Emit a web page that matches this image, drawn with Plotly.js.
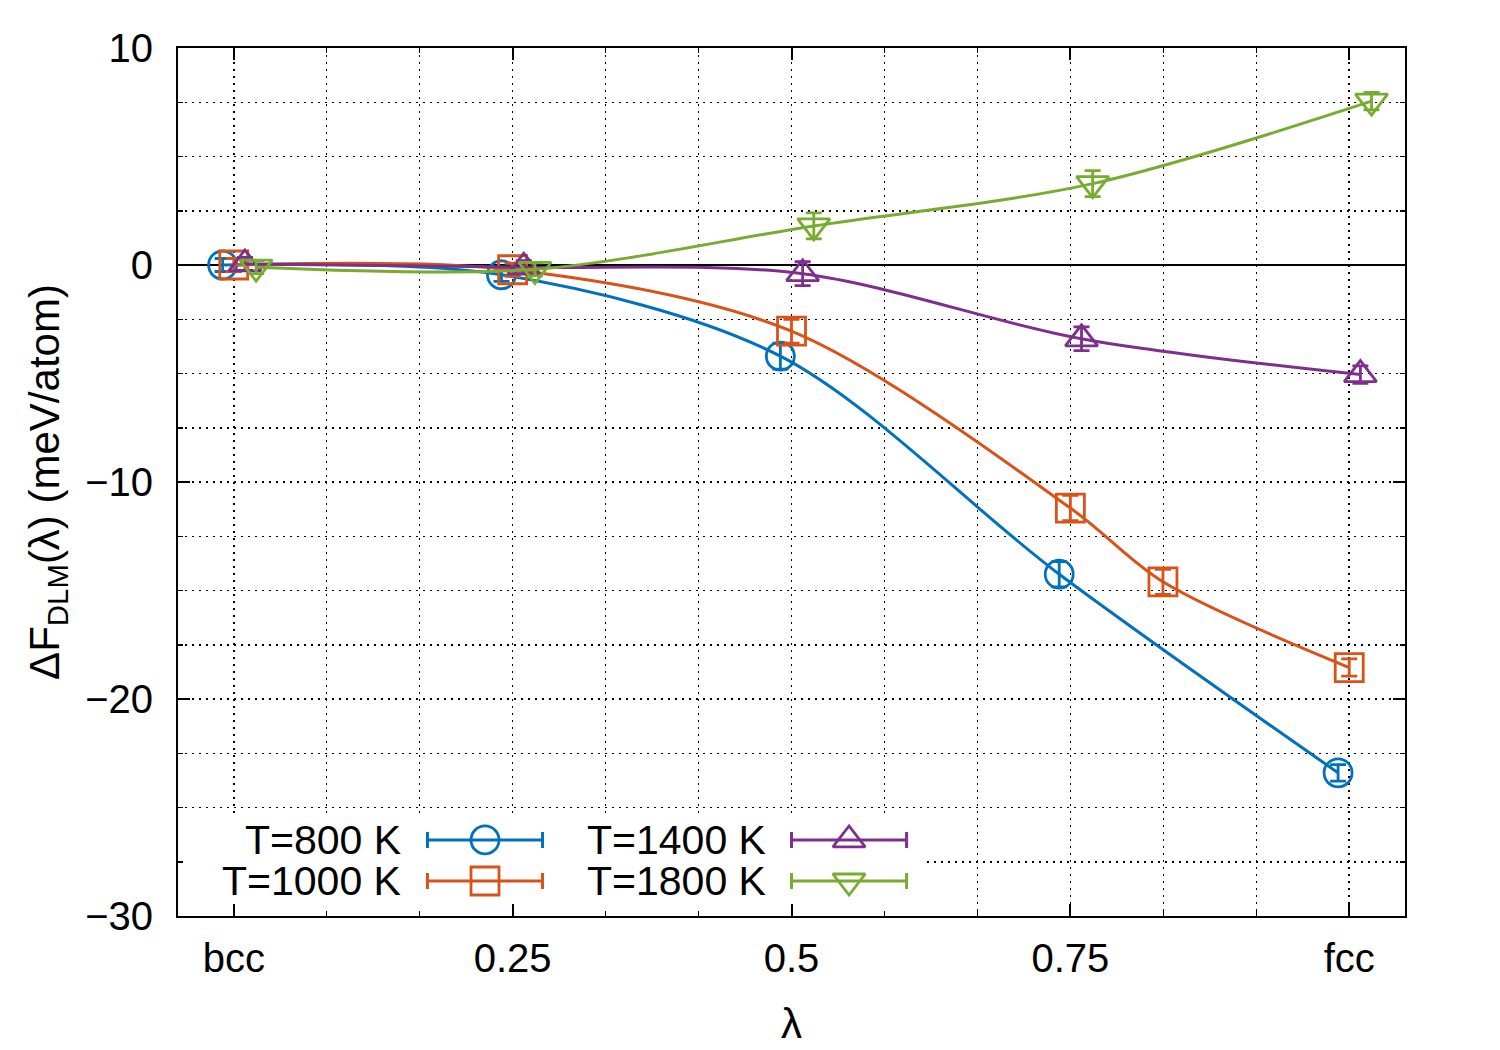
<!DOCTYPE html>
<html>
<head>
<meta charset="utf-8">
<script src="https://cdn.plot.ly/plotly-3.0.1.min.js"></script>
<style>
  body { margin: 0; background: white; }
  #chart { width: 1500px; height: 1050px; }
</style>
</head>
<body>
<div id="chart"></div>
<script>
// datos (x ligeramente desplazado por serie, como en el original)
const seriesNames = ['T=800 K', 'T=1000 K', 'T=1400 K', 'T=1800 K'];
const seriesColors = ['#0072BD', '#D95319', '#7E2F8E', '#77AC30'];
const seriesSymbols = ['circle-open', 'square-open', 'triangle-up-open', 'triangle-down-open'];

const x800 = [-0.01, 0.24, 0.49, 0.74, 0.99];
const y800 = [0.0, -0.45, -4.2, -14.25, -23.4];
const e800 = [0.3, 0.3, 0.6, 0.58, 0.38];

const x1000 = [0.0, 0.25, 0.5, 0.75, 0.833, 1.0];
const y1000 = [0.0, -0.22, -3.05, -11.2, -14.6, -18.55];
const e1000 = [0.3, 0.3, 0.55, 0.58, 0.58, 0.4];

const x1400 = [0.01, 0.26, 0.51, 0.76, 1.01];
const y1400 = [0.05, -0.1, -0.4, -3.4, -5.05];
const e1400 = [0.3, 0.3, 0.55, 0.55, 0.4];

const x1800 = [0.02, 0.27, 0.52, 0.77, 1.02];
const y1800 = [-0.1, -0.2, 1.8, 3.75, 7.55];
const e1800 = [0.3, 0.3, 0.6, 0.6, 0.4];

const xTickVals = [0, 0.25, 0.5, 0.75, 1];
const xTickText = ['bcc', '0.25', '0.5', '0.75', 'fcc'];

const allX = [x800, x1000, x1400, x1800];
const allY = [y800, y1000, y1400, y1800];
const allE = [e800, e1000, e1400, e1800];

const FONT = 'Liberation Sans, Arial, Helvetica, sans-serif';
const dotted = '2px,5px';
const X_RANGE = [-0.05, 1.05];
const Y_RANGE = [-30, 10];

const traces = [];
for (let i = 0; i < 4; i++) {
  traces.push({
    type: 'scatter',
    mode: 'lines+markers',
    name: seriesNames[i],
    x: allX[i],
    y: allY[i],
    line: { color: seriesColors[i], width: 3, shape: 'spline', smoothing: 0.9 },
    marker: { symbol: seriesSymbols[i], size: 28, color: seriesColors[i], line: { width: 2.8, color: seriesColors[i] } },
    error_y: { type: 'data', array: allE[i], visible: true, color: seriesColors[i], thickness: 2.8, width: 8 },
    showlegend: false,
    hoverinfo: 'x+y'
  });
}

// leyenda al estilo gnuplot: texto a la izquierda, muestra a la derecha
const legCol = [0.2502, 0.5469];     // centro de la muestra (fraccion del area)
const legTextX = [0.1834, 0.4808];   // borde derecho del texto
const legRow = [0.0876, 0.0403];
const legHalf = 0.0469;
const legBoxW = 0.609, legBoxH = 0.118;  // caja blanca, fraccion del area

const annotations = [];
for (let i = 0; i < 4; i++) {
  const c = Math.floor(i / 2), r = i % 2;
  traces.push({
    type: 'scatter',
    mode: 'markers',
    x: [legCol[c]],
    y: [legRow[r]],
    xaxis: 'x2',
    yaxis: 'y2',
    marker: { symbol: seriesSymbols[i], size: 28, color: seriesColors[i], line: { width: 2.8, color: seriesColors[i] } },
    error_x: { type: 'data', array: [legHalf], visible: true, color: seriesColors[i], thickness: 3, width: 8 },
    showlegend: false,
    hoverinfo: 'skip'
  });
  annotations.push({
    xref: 'paper', yref: 'paper',
    x: legTextX[c], y: legRow[r],
    xanchor: 'right', yanchor: 'middle',
    text: seriesNames[i], showarrow: false,
    font: { family: FONT, size: 41, color: 'black' }
  });
}

const xs = X_RANGE[1] - X_RANGE[0], ys = Y_RANGE[1] - Y_RANGE[0];

const layout = {
  width: 1500,
  height: 1050,
  margin: { l: 178, r: 95, t: 48, b: 134 },
  paper_bgcolor: 'white',
  plot_bgcolor: 'white',
  font: { family: FONT, size: 40, color: 'black' },
  showlegend: false,
  xaxis: {
    range: X_RANGE,
    tickmode: 'array',
    tickvals: xTickVals,
    ticktext: xTickText,
    ticks: 'inside',
    ticklen: 12,
    tickwidth: 2,
    tickcolor: 'black',
    ticklabelstandoff: 6,
    showline: true,
    linecolor: 'black',
    linewidth: 2,
    mirror: 'ticks',
    showgrid: true,
    gridcolor: 'black',
    gridwidth: 1.5,
    griddash: dotted,
    zeroline: false,
    minor: {
      tickmode: 'linear', tick0: 0, dtick: 1 / 12,
      ticks: 'inside', ticklen: 5, tickwidth: 1.5, tickcolor: 'black',
      showgrid: true, gridcolor: 'black', gridwidth: 1.5, griddash: dotted
    },
    title: { text: 'λ', font: { family: FONT, size: 42 }, standoff: 30 }
  },
  yaxis: {
    range: Y_RANGE,
    tickmode: 'linear',
    tick0: 0,
    dtick: 10,
    ticks: 'inside',
    ticklen: 12,
    tickwidth: 2,
    tickcolor: 'black',
    ticklabelstandoff: 15,
    showline: true,
    linecolor: 'black',
    linewidth: 2,
    mirror: 'ticks',
    showgrid: true,
    gridcolor: 'black',
    gridwidth: 1.5,
    griddash: dotted,
    zeroline: true,
    zerolinecolor: 'black',
    zerolinewidth: 2,
    minor: {
      tickmode: 'linear', tick0: 0, dtick: 2.5,
      ticks: 'inside', ticklen: 5, tickwidth: 1.5, tickcolor: 'black',
      showgrid: true, gridcolor: 'black', gridwidth: 1.5, griddash: dotted
    },
    title: { text: 'ΔF<sub>DLM</sub>(λ) (meV/atom)', font: { family: FONT, size: 42 }, standoff: 12 }
  },
  xaxis2: { overlaying: 'x', anchor: 'y2', range: [0, 1], visible: false, fixedrange: true },
  yaxis2: { overlaying: 'y', anchor: 'x2', range: [0, 1], visible: false, fixedrange: true },
  shapes: [{
    type: 'rect', xref: 'x', yref: 'y', layer: 'between',
    x0: X_RANGE[0], x1: X_RANGE[0] + legBoxW * xs,
    y0: Y_RANGE[0], y1: Y_RANGE[0] + legBoxH * ys,
    fillcolor: 'white', line: { width: 0 }
  }],
  annotations: annotations
};

Plotly.newPlot('chart', traces, layout, { displayModeBar: false, staticPlot: true });
</script>
</body>
</html>
